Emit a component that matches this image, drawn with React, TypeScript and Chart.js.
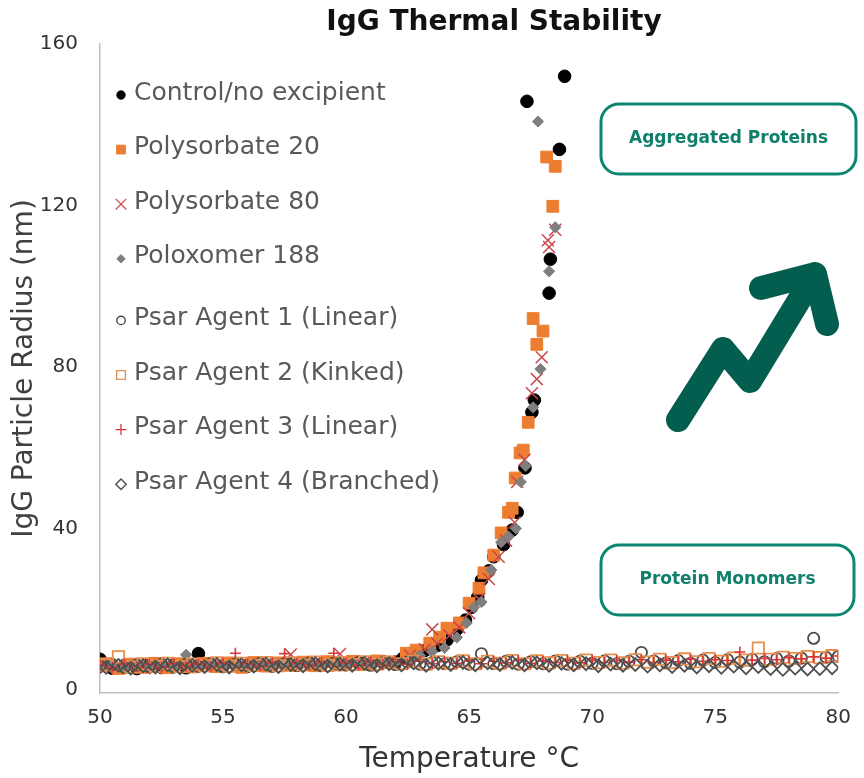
import React, { useEffect, useRef } from 'react';
import { Chart, registerables } from 'chart.js';

Chart.register(...registerables);

// ---------- data ----------
const xTicks = [50, 55, 60, 65, 70, 75, 80];
const yTicks = [0, 40, 80, 120, 160];

// measurement temperature grids (°C)
const gridA = [50, 50.5, 51, 51.5, 52, 52.5, 53, 53.5, 54, 54.5, 55, 55.5, 56, 56.5, 57, 57.5, 58, 58.5, 59, 59.5,
  60, 60.5, 61, 61.5, 62, 62.5, 63, 63.5, 64, 64.5, 65, 65.5, 66, 66.5, 67, 67.5, 68, 68.5, 69, 69.5,
  70, 70.5, 71, 71.5, 72, 72.5, 73, 73.5, 74, 74.5, 75, 75.5, 76, 76.5, 77, 77.5, 78, 78.5, 79, 79.5, 80];
const gridB = [50.25, 50.75, 51.25, 51.75, 52.25, 52.75, 53.25, 53.75, 54.25, 54.75, 55.25, 55.75, 56.25, 56.75, 57.25, 57.75,
  58.25, 58.75, 59.25, 59.75, 60.25, 60.75, 61.25, 61.75, 62.25, 62.75, 63.25, 63.75, 64.25, 64.75, 65.25, 65.75,
  66.25, 66.75, 67.25, 67.75, 68.25, 68.75, 69.25, 69.75, 70.25, 70.75, 71.25, 71.75, 72.25, 72.75, 73.25, 73.75,
  74.25, 74.75, 75.25, 75.75, 76.25, 76.75, 77.25, 77.75, 78.25, 78.75, 79.25, 79.75];

// Control / no excipient
const controlBaseY = [7.6, 5.4, 6.1, 5.3, 6.3, 5.6, 6.2, 5.5, 9.0, 6.3, 5.8, 6.4, 5.9, 6.5, 6.0, 6.6, 6.1, 6.7, 6.2, 6.8, 6.3, 6.9, 6.4, 7.0, 6.9];
const controlRiseT = [62.3, 62.7, 63.2, 63.7, 64.1, 64.5, 64.85, 65.1, 65.35, 65.5, 65.8, 66.0, 66.4, 66.75, 66.95, 67.27, 67.35, 67.55, 67.65, 68.25, 68.3, 68.67, 68.88];
const controlRiseY = [7.8, 9.2, 9.8, 11.0, 12.4, 15.0, 17.3, 20.5, 23.0, 27.2, 29.5, 33.0, 36.0, 39.6, 44.0, 55.0, 145.8, 68.8, 71.8, 98.3, 106.7, 133.9, 152.0];

// Polysorbate 20
const ps20BaseY = [6.5, 5.3, 6.4, 5.6, 6.6, 5.5, 6.5, 5.7, 6.6, 5.8, 6.7, 5.6, 6.8, 5.9, 6.7, 6.1, 6.9, 6.0, 7.0, 6.2, 7.1, 6.3, 7.2, 6.9];
const ps20RiseT = [62.45, 62.85, 63.4, 63.8, 64.1, 64.6, 65.0, 65.4, 65.6, 66.0, 66.3, 66.6, 66.75, 66.87, 67.07, 67.2, 67.4, 67.6, 67.75, 68.0, 68.15, 68.4, 68.5];
const ps20RiseY = [9.1, 9.9, 11.6, 13.1, 15.3, 16.6, 21.5, 25.2, 29.0, 33.4, 38.9, 44.0, 45.0, 52.5, 58.7, 59.4, 66.3, 92.0, 85.6, 88.9, 132.0, 119.8, 129.7];

// Polysorbate 80
const ps80BaseY = [5.6, 6.4, 5.5, 6.5, 5.4, 6.3, 5.7, 6.6, 5.8, 6.5, 5.9, 6.7, 6.0, 6.6, 6.1, 8.8, 6.2, 6.9, 6.3, 8.9, 6.4, 7.0, 6.5, 7.1];
const ps80RiseT = [62.6, 63.2, 63.5, 63.7, 64.2, 64.6, 65.0, 65.4, 65.8, 66.2, 66.5, 66.85, 66.95, 67.25, 67.55, 67.75, 67.95, 68.2, 68.25, 68.5];
const ps80RiseY = [8.5, 10.0, 15.0, 11.5, 13.5, 15.5, 19.0, 22.5, 27.5, 33.0, 37.0, 41.5, 51.5, 57.0, 73.5, 77.0, 82.4, 111.4, 109.7, 114.0];

// Poloxomer 188
const p188BaseY = [5.5, 6.3, 5.4, 6.2, 5.6, 6.4, 5.5, 8.7, 5.7, 6.5, 5.8, 6.6, 5.7, 6.5, 5.9, 6.7, 6.0, 6.8, 6.1, 6.9, 6.2, 7.0, 6.3, 7.1, 6.7];
const p188RiseT = [62.6, 63.0, 63.5, 64.0, 64.5, 64.9, 65.2, 65.5, 65.9, 66.3, 66.6, 66.9, 67.1, 67.3, 67.6, 67.8, 67.9, 68.25, 68.5];
const p188RiseY = [7.5, 8.5, 9.5, 10.4, 13.0, 16.6, 20.5, 21.8, 29.7, 36.6, 38.0, 40.0, 51.5, 55.5, 70.0, 140.8, 79.5, 103.7, 114.6];

// Psar agents (gridA for 1 and 3, gridB for 2 and 4)
const psar1Y = [5.9, 6.3, 5.6, 6.2, 5.8, 6.4, 5.7, 6.3, 5.9, 6.5, 5.8, 6.4, 6.0, 6.6, 5.9, 6.5, 6.1, 6.7, 6.0, 6.6,
  6.2, 6.8, 6.1, 6.7, 6.3, 6.9, 6.4, 6.8, 6.5, 7.0, 6.4, 9.0, 6.5, 7.1, 6.4, 7.0, 6.5, 7.2, 6.4, 7.1,
  6.6, 7.2, 6.5, 7.1, 9.3, 7.2, 6.7, 7.3, 6.6, 7.4, 6.8, 7.5, 6.9, 7.6, 7.0, 7.8, 7.2, 7.9, 12.8, 8.1, 8.3];
const psar2Y = [6.2, 8.2, 5.7, 6.5, 5.9, 6.6, 5.8, 6.4, 6.0, 6.7, 5.9, 6.6, 6.1, 6.8, 6.0, 6.7, 6.2, 6.9, 6.1, 6.8,
  6.3, 7.0, 6.4, 6.9, 6.5, 7.1, 6.4, 7.0, 6.6, 7.2, 6.5, 7.1, 6.6, 7.3, 6.5, 7.2, 6.7, 7.3, 6.6, 7.4,
  6.8, 7.4, 6.7, 7.5, 6.9, 7.6, 6.8, 7.7, 7.0, 7.8, 7.1, 7.9, 7.4, 10.4, 7.6, 8.1, 7.8, 8.3, 8.0, 8.5];
const psar3Y = [6.1, 5.6, 6.4, 5.8, 6.3, 5.7, 6.5, 5.9, 6.4, 5.8, 6.6, 9.1, 6.5, 6.0, 6.7, 9.0, 6.6, 6.1, 6.8, 9.1,
  6.7, 6.2, 6.9, 6.3, 7.0, 6.4, 7.1, 6.5, 7.0, 6.6, 7.2, 6.5, 7.1, 6.7, 7.3, 6.6, 7.2, 6.8, 7.3, 6.7,
  7.4, 6.8, 7.3, 6.9, 7.5, 6.8, 7.4, 7.0, 7.6, 7.1, 7.5, 7.3, 9.4, 7.4, 7.8, 7.5, 8.0, 7.7, 8.2, 7.9, 8.4];
const psar4Y = [5.6, 6.1, 5.4, 6.0, 5.7, 6.2, 5.5, 6.1, 5.8, 6.3, 5.7, 6.2, 5.9, 6.4, 5.8, 6.3, 6.0, 6.5, 5.9, 6.4,
  6.1, 6.6, 6.0, 6.5, 6.2, 6.7, 6.1, 6.6, 6.3, 6.8, 6.2, 6.7, 6.3, 6.8, 6.2, 6.7, 6.1, 6.6, 6.2, 6.5,
  6.0, 6.4, 6.1, 6.3, 5.9, 6.2, 5.8, 6.1, 5.7, 6.0, 5.6, 5.9, 5.5, 5.8, 5.3, 5.1, 5.4, 5.2, 5.3, 5.5];

const seriesNames = [
  'Control/no excipient',
  'Polysorbate 20',
  'Polysorbate 80',
  'Poloxomer 188',
  'Psar Agent 1 (Linear)',
  'Psar Agent 2 (Kinked)',
  'Psar Agent 3 (Linear)',
  'Psar Agent 4 (Branched)',
];

// ---------- helpers ----------
const pts = (xs: number[], ys: number[]) => ys.map((y, i) => ({ x: xs[i], y }));

const FONT = "'DejaVu Sans', sans-serif";

type Sty = { style: string; fill: string | null; stroke: string; lw: number; r: number; lr: number; llw: number };
const styles: Sty[] = [
  { style: 'circle', fill: '#000000', stroke: '#000000', lw: 1, r: 6.3, lr: 4.2, llw: 1 },
  { style: 'rect', fill: '#ED7D31', stroke: '#ED7D31', lw: 1, r: 8.3, lr: 6.2, llw: 1 },
  { style: 'crossRot', fill: null, stroke: '#C9474B', lw: 1.5, r: 8.5, lr: 7.5, llw: 1.2 },
  { style: 'rectRot', fill: '#7F7F7F', stroke: '#7F7F7F', lw: 1, r: 5.6, lr: 4.2, llw: 1 },
  { style: 'circle', fill: null, stroke: '#4A4A4A', lw: 1.8, r: 5.6, lr: 4.2, llw: 1.4 },
  { style: 'rect', fill: null, stroke: '#E8904F', lw: 1.8, r: 8.0, lr: 6.2, llw: 1.4 },
  { style: 'cross', fill: null, stroke: '#D9363C', lw: 1.6, r: 5.5, lr: 5.5, llw: 1.3 },
  { style: 'rectRot', fill: null, stroke: '#4F4F4F', lw: 1.8, r: 6.4, lr: 5.2, llw: 1.4 },
];

function drawMarker(ctx: CanvasRenderingContext2D, s: Sty, x: number, y: number, r: number, lw: number) {
  ctx.save();
  ctx.beginPath();
  const h = r * Math.SQRT1_2;
  if (s.style === 'circle') {
    ctx.arc(x, y, r, 0, Math.PI * 2);
  } else if (s.style === 'rect') {
    ctx.rect(x - h, y - h, 2 * h, 2 * h);
  } else if (s.style === 'rectRot') {
    ctx.moveTo(x, y - r);
    ctx.lineTo(x + r, y);
    ctx.lineTo(x, y + r);
    ctx.lineTo(x - r, y);
    ctx.closePath();
  } else if (s.style === 'crossRot') {
    ctx.moveTo(x - h, y - h);
    ctx.lineTo(x + h, y + h);
    ctx.moveTo(x + h, y - h);
    ctx.lineTo(x - h, y + h);
  } else if (s.style === 'cross') {
    ctx.moveTo(x - r, y);
    ctx.lineTo(x + r, y);
    ctx.moveTo(x, y - r);
    ctx.lineTo(x, y + r);
  }
  if (s.fill) {
    ctx.fillStyle = s.fill;
    ctx.fill();
  }
  ctx.strokeStyle = s.stroke;
  ctx.lineWidth = lw;
  ctx.stroke();
  ctx.restore();
}

const decorPlugin = {
  id: 'decor',
  afterDraw(chart: any) {
    const ctx: CanvasRenderingContext2D = chart.ctx;
    const area = chart.chartArea;
    ctx.save();

    // title
    ctx.fillStyle = '#111111';
    ctx.font = `bold 28px ${FONT}`;
    ctx.textAlign = 'center';
    ctx.textBaseline = 'middle';
    ctx.fillText('IgG Thermal Stability', 494, 23);

    // legend inside the plot
    ctx.font = `25px ${FONT}`;
    ctx.textAlign = 'left';
    seriesNames.forEach((name, i) => {
      const y = 93 + i * 54.6 + (i >= 4 ? 7 : 0);
      const x = area.left + 21;
      drawMarker(ctx, styles[i], x, y + 2, styles[i].lr, styles[i].llw);
      ctx.fillStyle = '#595959';
      ctx.fillText(name, area.left + 34, y);
    });

    // annotation boxes
    const box = (x: number, y: number, w: number, h: number, text: string) => {
      ctx.beginPath();
      ctx.roundRect(x, y, w, h, 18);
      ctx.fillStyle = '#FFFFFF';
      ctx.fill();
      ctx.lineWidth = 3;
      ctx.strokeStyle = '#0D8570';
      ctx.stroke();
      ctx.fillStyle = '#10806B';
      ctx.font = `bold 17px ${FONT}`;
      ctx.textAlign = 'center';
      ctx.textBaseline = 'middle';
      ctx.fillText(text, x + w / 2, y + h / 2);
    };
    box(601, 104, 255, 70, 'Aggregated Proteins');
    box(601, 545, 253, 70, 'Protein Monomers');

    // arrow
    ctx.beginPath();
    ctx.lineWidth = 24;
    ctx.lineCap = 'round';
    ctx.lineJoin = 'round';
    ctx.strokeStyle = '#035E4F';
    ctx.moveTo(678, 420);
    ctx.lineTo(723, 349);
    ctx.lineTo(750, 381);
    ctx.lineTo(815, 274);
    ctx.moveTo(761, 288);
    ctx.lineTo(815, 274);
    ctx.lineTo(827, 324);
    ctx.stroke();

    ctx.restore();
  },
};

export default function App() {
  const ref = useRef<HTMLCanvasElement | null>(null);

  useEffect(() => {
    if (!ref.current) return;
    const mk = (i: number, data: { x: number; y: number }[]) => {
      const s = styles[i];
      return {
        label: seriesNames[i],
        data,
        order: -i,
        pointStyle: s.style,
        pointRadius: s.r,
        pointHoverRadius: s.r,
        pointBackgroundColor: s.fill ?? 'rgba(0,0,0,0)',
        pointBorderColor: s.stroke,
        pointBorderWidth: s.lw,
        backgroundColor: s.fill ?? 'rgba(0,0,0,0)',
        borderColor: s.stroke,
        showLine: false,
      };
    };
    const datasets = [
      mk(0, [...pts(gridA, controlBaseY), ...pts(controlRiseT, controlRiseY)]),
      mk(1, [...pts(gridB, ps20BaseY), ...pts(ps20RiseT, ps20RiseY)]),
      mk(2, [...pts(gridB, ps80BaseY), ...pts(ps80RiseT, ps80RiseY)]),
      mk(3, [...pts(gridA, p188BaseY), ...pts(p188RiseT, p188RiseY)]),
      mk(4, pts(gridA, psar1Y)),
      mk(5, pts(gridB, psar2Y)),
      mk(6, pts(gridA, psar3Y)),
      mk(7, pts(gridB, psar4Y)),
    ];

    const chart = new Chart(ref.current, {
      type: 'scatter',
      data: { datasets } as any,
      options: {
        animation: false,
        responsive: true,
        maintainAspectRatio: false,
        layout: { padding: { top: 44, right: 17, left: 0, bottom: 0 } },
        plugins: {
          legend: { display: false },
          tooltip: { enabled: false },
          title: { display: false },
        },
        scales: {
          x: {
            type: 'linear',
            min: 50,
            max: 80,
            afterFit: (s: any) => { s.height = 85; },
            afterBuildTicks: (s: any) => { s.ticks = xTicks.map((v) => ({ value: v })); },
            grid: { display: false, drawTicks: false },
            border: { display: true, color: '#BFBFBF', width: 1.5 },
            ticks: { color: '#333333', font: { family: FONT, size: 20 }, padding: 13 },
            title: {
              display: true,
              text: 'Temperature °C',
              color: '#333333',
              font: { family: FONT, size: 28 },
              padding: { top: 0, bottom: 1 },
            },
          },
          y: {
            type: 'linear',
            min: -0.75,
            max: 160,
            afterFit: (s: any) => { s.width = 100; },
            afterBuildTicks: (s: any) => { s.ticks = yTicks.map((v) => ({ value: v })); },
            grid: { display: false, drawTicks: false },
            border: { display: true, color: '#BFBFBF', width: 1.5 },
            ticks: { color: '#333333', font: { family: FONT, size: 20 }, padding: 22 },
            title: {
              display: true,
              text: 'IgG Particle Radius (nm)',
              color: '#404040',
              font: { family: FONT, size: 28 },
              padding: { top: 8, bottom: 0 },
            },
          },
        },
      },
      plugins: [decorPlugin],
    } as any);
    return () => chart.destroy();
  }, []);

  return (
    <div style={{ position: 'fixed', left: 0, top: 0, width: 864, height: 778, background: '#FFFFFF' }}>
      <canvas ref={ref} />
    </div>
  );
}
